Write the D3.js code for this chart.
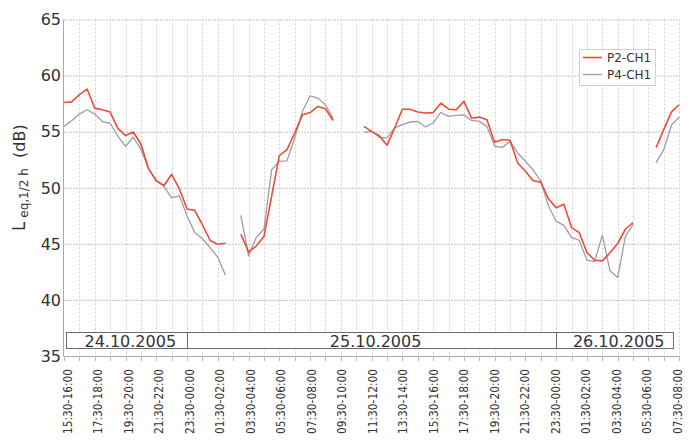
<!DOCTYPE html>
<html>
<head>
<meta charset="utf-8">
<script src="https://cdn.jsdelivr.net/npm/d3@7"></script>
<style>
  html, body { margin: 0; padding: 0; background: #fff; }
  svg { display: block; }
  text { font-family: "DejaVu Sans", sans-serif; fill: #333; }
</style>
</head>
<body>
<svg id="chart" width="697" height="441"></svg>
<script>
// Half-hour intervals from 24.10.2005 15:30 to 26.10.2005 08:00 (index 0..80)
const seriesNames = ["P2-CH1", "P4-CH1"];
const seriesColors = ["#f04a38", "#9d9da8"];

const p2 = [
  57.6, 57.66, 58.3, 58.8, 57.1, 56.95, 56.75, 55.3, 54.65, 54.97,
  53.9, 51.7, 50.6, 50.2, 51.2, 49.9, 48.1, 47.98, 46.7, 45.3,
  44.96, 45.05, null, 45.85, 44.28, 44.8, 45.65, 49.25, 52.87, 53.4,
  54.88, 56.5, 56.7, 57.25, 57.04, 56.0, null, null, null, 55.47,
  55.03, 54.64, 53.78, 55.33, 57.0, 57.0, 56.75, 56.66, 56.7, 57.54,
  57.0, 56.95, 57.7, 56.2, 56.3, 56.07, 54.05, 54.3, 54.23, 52.2,
  51.47, 50.62, 50.5, 49.02, 48.22, 48.52, 46.45, 46.0, 44.23, 43.54,
  43.48, 44.2, 45.03, 46.3, 46.9, null, null, 53.58, 55.2, 56.77,
  57.4
];

const p4 = [
  55.47, 55.98, 56.57, 56.95, 56.57, 55.9, 55.75, 54.6, 53.7, 54.5,
  53.46, 51.65, 50.7, 50.1, 49.1, 49.28, 47.5, 46.0, 45.45, 44.67,
  43.8, 42.2, null, 47.54, 43.93, 45.56, 46.3, 51.6, 52.36, 52.4,
  54.44, 56.8, 58.2, 58.0, 57.4, 56.2, null, null, null, 54.94,
  55.03, 54.5, 54.44, 55.33, 55.62, 55.86, 55.92, 55.42, 55.77, 56.71,
  56.36, 56.45, 56.5, 56.0, 55.92, 55.47, 53.7, 53.6, 54.14, 53.1,
  52.36, 51.6, 50.6, 48.37, 47.03, 46.65, 45.56, 45.32, 43.54, 43.42,
  45.77, 42.6, 42.0, 45.65, 46.74, null, null, 52.24, 53.4, 55.6,
  56.3
];

const tickLabels = [
  "15:30-16:00", "17:30-18:00", "19:30-20:00", "21:30-22:00", "23:30-00:00",
  "01:30-02:00", "03:30-04:00", "05:30-06:00", "07:30-08:00", "09:30-10:00",
  "11:30-12:00", "13:30-14:00", "15:30-16:00", "17:30-18:00", "19:30-20:00",
  "21:30-22:00", "23:30-00:00", "01:30-02:00", "03:30-04:00", "05:30-06:00",
  "07:30-08:00"
];
const labelEvery = 4;

const dayLabels = ["24.10.2005", "25.10.2005", "26.10.2005"];
const dayBounds = [0, 16, 64, 80];

const yTicks = [35, 40, 45, 50, 55, 60, 65];

const svg = d3.select("#chart");
const plot = { left: 64, right: 679.2, top: 19.5, bottom: 356 };

const x = d3.scaleLinear().domain([0, p2.length - 1]).range([plot.left, plot.right]);
const y = d3.scaleLinear().domain([35, 65]).range([plot.bottom, plot.top]);
const labelX = d3.scaleLinear().domain([0, p2.length - 1]).range([plot.left + 3, plot.right - 2]);

// grid
const g = svg.append("g");
g.selectAll("line.hgrid").data(yTicks.filter(t => t > 35))
  .join("line").attr("class", "hgrid")
  .attr("x1", plot.left).attr("x2", plot.right)
  .attr("y1", d => y(d) + 0.5).attr("y2", d => y(d) + 0.5)
  .attr("stroke", "#c4c4c8").attr("stroke-width", 1)
  .attr("stroke-dasharray", "2,1");

const hourIdx = d3.range(2, p2.length, 2);
g.selectAll("line.vgrid").data(hourIdx)
  .join("line").attr("class", "vgrid")
  .attr("x1", d => Math.round(x(d)) + 0.5).attr("x2", d => Math.round(x(d)) + 0.5)
  .attr("y1", plot.top).attr("y2", plot.bottom)
  .attr("stroke", "#cfcfd4").attr("stroke-width", 1)
  .attr("stroke-dasharray", "2,2");

// axes frame
g.append("line").attr("x1", plot.left - 0.5).attr("x2", plot.left - 0.5)
  .attr("y1", plot.top).attr("y2", plot.bottom).attr("stroke", "#a8a8ae");
g.append("line").attr("x1", plot.left - 0.5).attr("x2", plot.right)
  .attr("y1", plot.bottom + 0.5).attr("y2", plot.bottom + 0.5).attr("stroke", "#a8a8ae");

// x ticks (hourly) below the axis
g.selectAll("line.xtick").data(d3.range(0, p2.length, 2))
  .join("line").attr("class", "xtick")
  .attr("x1", d => Math.round(x(d)) + 0.5).attr("x2", d => Math.round(x(d)) + 0.5)
  .attr("y1", plot.bottom).attr("y2", plot.bottom + 5)
  .attr("stroke", "#b8b8be");

// y tick labels
svg.selectAll("text.ytick").data(yTicks)
  .join("text").attr("class", "ytick")
  .attr("x", 61).attr("y", d => y(d))
  .attr("dy", "0.36em")
  .attr("text-anchor", "end")
  .style("font-size", "16px")
  .text(d => d);

// x tick labels, rotated and set in a narrow run
svg.selectAll("text.xlab").data(tickLabels)
  .join("text").attr("class", "xlab")
  .attr("transform", (d, i) => `translate(${labelX(i * labelEvery)},369) rotate(-90)`)
  .attr("dy", "0.36em")
  .attr("text-anchor", "end")
  .attr("textLength", 65)
  .attr("lengthAdjust", "spacingAndGlyphs")
  .style("font-size", "12.5px")
  .text(d => d);

// day boxes
const dayG = svg.append("g");
dayLabels.forEach((lab, k) => {
  const x0 = k === 0 ? x(dayBounds[k]) + 1.5 : x(dayBounds[k]);
  const x1 = k === dayLabels.length - 1 ? x(dayBounds[k + 1]) - 6 : x(dayBounds[k + 1]);
  dayG.append("rect")
    .attr("x", Math.round(x0) + 0.5).attr("y", 332.5)
    .attr("width", Math.round(x1) - Math.round(x0)).attr("height", 16)
    .attr("fill", "#fff").attr("stroke", "#6a6a70").attr("stroke-width", 1);
  dayG.append("text")
    .attr("x", (x0 + x1) / 2 + 4).attr("y", 346.5)
    .attr("text-anchor", "middle")
    .style("font-size", "16px")
    .text(lab);
});

// series lines
const line = d3.line()
  .defined(d => d != null)
  .x((d, i) => x(i))
  .y(d => y(d));

svg.append("path").datum(p4)
  .attr("d", line).attr("fill", "none")
  .attr("stroke", seriesColors[1]).attr("stroke-width", 1.3)
  .attr("stroke-linejoin", "round");
svg.append("path").datum(p2)
  .attr("d", line).attr("fill", "none")
  .attr("stroke", seriesColors[0]).attr("stroke-width", 1.6)
  .attr("stroke-linejoin", "round");

// y axis title
const yt = svg.append("text")
  .attr("transform", "translate(25,231) rotate(-90)")
  .attr("text-anchor", "start");
yt.append("tspan").style("font-size", "17px").text("L");
yt.append("tspan").style("font-size", "12px").attr("dy", 3).text(" eq,1/2 h");
yt.append("tspan").style("font-size", "16px").attr("dy", -3).text("\u00a0\u00a0(dB)");

// legend
const lg = svg.append("g");
lg.append("rect").attr("x", 579.5).attr("y", 49.5).attr("width", 76).attr("height", 36)
  .attr("fill", "#fff").attr("stroke", "#d0d0d4");
seriesNames.forEach((name, k) => {
  const ly = 57.5 + k * 17;
  lg.append("line").attr("x1", 583).attr("x2", 602).attr("y1", ly).attr("y2", ly)
    .attr("stroke", seriesColors[k]).attr("stroke-width", k === 0 ? 1.6 : 1.3);
  lg.append("text").attr("x", 607).attr("y", ly).attr("dy", "0.36em")
    .style("font-size", "12px").text(name);
});
</script>
</body>
</html>
